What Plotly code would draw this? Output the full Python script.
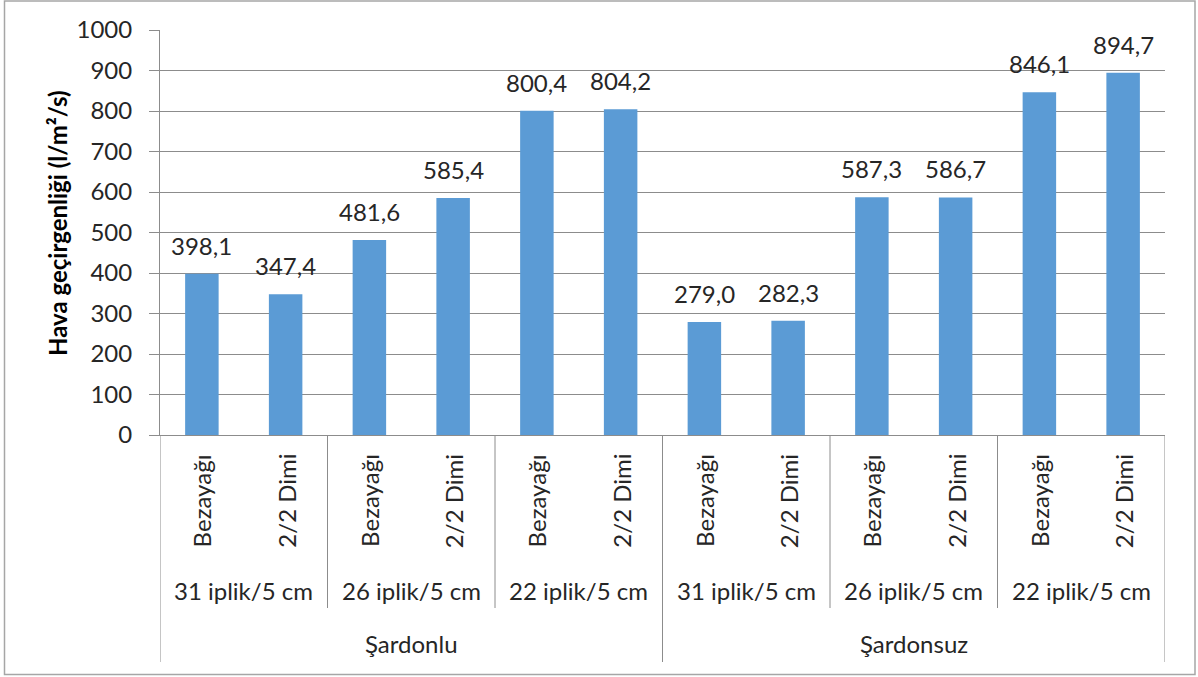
import plotly.graph_objects as go

# Air permeability (l/m²/s) per fabric
finishing = ["Şardonlu", "Şardonsuz"]
densities = ["31 iplik/5 cm", "26 iplik/5 cm", "22 iplik/5 cm"]
weaves = ["Bezayağı", "2/2 Dimi"]
values = [398.1, 347.4, 481.6, 585.4, 800.4, 804.2,
          279.0, 282.3, 587.3, 586.7, 846.1, 894.7]
y_ticks = list(range(0, 1001, 100))

FONT = "Lato"
TXT = "#262626"
GRID = "#8c8c8c"
BAR = "#5B9BD5"

W, H = 1198, 677
ML, MR, MT, MB = 160, 33, 30, 242
PH = H - MT - MB
PW = W - ML - MR


def py(pix):
    """pixel row -> paper y"""
    return (H - MB - pix) / PH


def px(pix):
    """pixel column -> paper x"""
    return (pix - ML) / PW


xs = list(range(len(values)))

fig = go.Figure(go.Bar(
    x=xs, y=values, marker=dict(color=BAR, line=dict(width=0)),
    hoverinfo="skip",
))

ann = []
# value labels above bars
for x, v in zip(xs, values):
    ann.append(dict(x=x, y=v, xref="x", yref="y", text=f"{v:.1f}".replace(".", ","),
                    showarrow=False, yanchor="bottom", yshift=12,
                    font=dict(family=FONT, size=24, color=TXT)))

# level 1: weave names (rotated)
n_w, n_d = len(weaves), len(densities)
for i in xs:
    ann.append(dict(x=i, y=py(452), xref="x", yref="paper", text=weaves[i % n_w],
                    textangle=-90, showarrow=False, xanchor="center", yanchor="top",
                    font=dict(family=FONT, size=24, color=TXT)))

# level 2: thread density
for g in range(len(finishing) * n_d):
    cx = g * n_w + (n_w - 1) / 2
    ann.append(dict(x=cx, y=py(590), xref="x", yref="paper", text=densities[g % n_d],
                    showarrow=False, xanchor="center", yanchor="middle",
                    font=dict(family=FONT, size=24, color=TXT)))

# level 3: finishing
span = n_w * n_d
for f, name in enumerate(finishing):
    cx = f * span + (span - 1) / 2
    ann.append(dict(x=cx, y=py(643), xref="x", yref="paper", text=name,
                    showarrow=False, xanchor="center", yanchor="middle",
                    font=dict(family=FONT, size=24, color=TXT)))

# y axis title
ann.append(dict(x=px(57), y=py(223), xref="paper", yref="paper",
                text="<b>Hava geçirgenliği (l/m²/s)</b>", textangle=-90,
                showarrow=False, xanchor="center", yanchor="middle",
                font=dict(family=FONT, size=24, color="#000000")))

shapes = []
# category separators
for g in range(1, len(finishing) * n_d):
    xb = g * n_w - 0.5
    bottom = 662 if g % n_d == 0 else 608
    shapes.append(dict(type="line", xref="x", yref="paper", x0=xb, x1=xb,
                       y0=0, y1=py(bottom), line=dict(color=GRID, width=1)))
for xb in (-0.5, len(values) - 0.5):
    shapes.append(dict(type="line", xref="x", yref="paper", x0=xb, x1=xb,
                       y0=0, y1=py(662), line=dict(color=GRID, width=1)))

# chart frame
shapes.append(dict(type="rect", xref="paper", yref="paper",
                   x0=px(4.5), x1=px(1195), y0=py(674.5), y1=py(1),
                   line=dict(color="#a6a6a6", width=1.5), fillcolor="rgba(0,0,0,0)",
                   layer="below"))

fig.update_layout(
    width=W, height=H,
    margin=dict(l=ML, r=MR, t=MT, b=MB, pad=0),
    paper_bgcolor="white", plot_bgcolor="white",
    bargap=0.6, showlegend=False,
    annotations=ann, shapes=shapes,
    font=dict(family=FONT, color=TXT),
)
fig.update_xaxes(range=[-0.5, len(values) - 0.5], showticklabels=False, ticks="",
                 showgrid=False, zeroline=False, showline=True, linecolor=GRID,
                 linewidth=1, fixedrange=True)
fig.update_yaxes(range=[0, 1000], tickvals=y_ticks, ticks="outside", ticklen=10,
                 tickcolor=GRID, showgrid=True, gridcolor=GRID, gridwidth=1,
                 showline=True, linecolor=GRID, linewidth=1, zeroline=False,
                 tickfont=dict(family=FONT, size=24, color=TXT),
                 ticklabelstandoff=12, fixedrange=True)

fig.write_html("out.html", config={"displayModeBar": False})
